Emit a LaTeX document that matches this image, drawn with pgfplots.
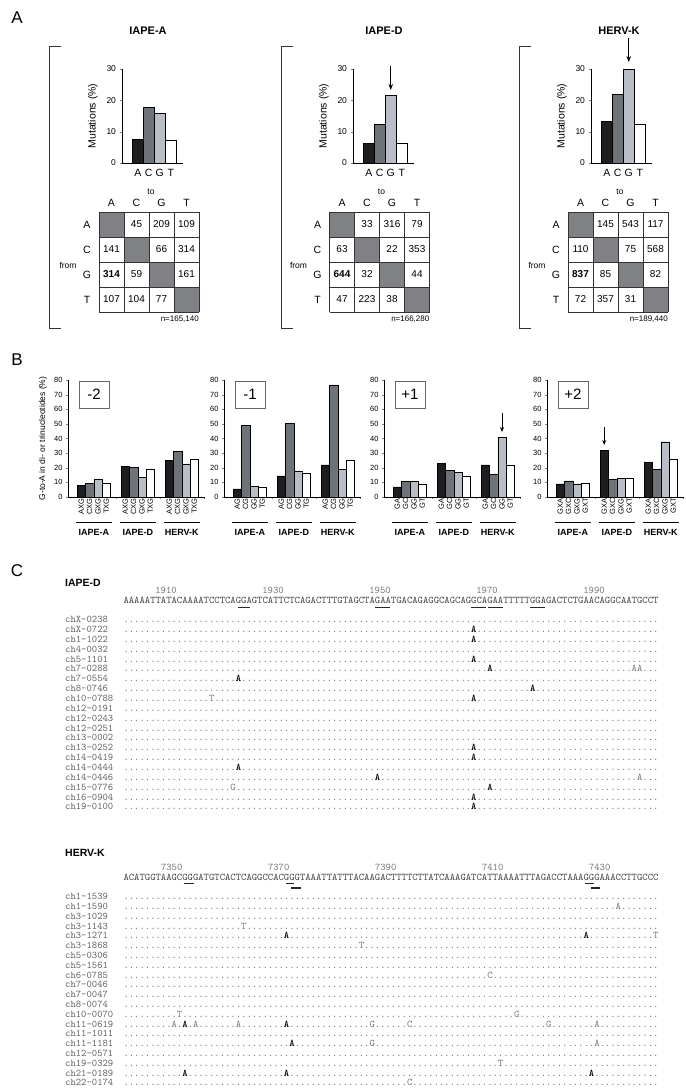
\documentclass[border=0pt]{standalone}
\usepackage{pgfplots}
\pgfplotsset{compat=1.18}
\usepackage{fontspec}
\setmainfont{Liberation Sans}
\usetikzlibrary{arrows.meta}
\definecolor{cA}{RGB}{30,30,32}
\definecolor{cC}{RGB}{110,115,121}
\definecolor{cG}{RGB}{185,190,198}
\definecolor{cT}{RGB}{255,255,255}
\definecolor{cell}{RGB}{128,129,132}
\newcommand\fs[1]{\fontsize{#1}{#1}\selectfont}
\newcommand\mono{\fontsize{10.19}{12}\selectfont\ttfamily}
\ExplSyntaxOn
\NewDocumentCommand\D{m}{\prg_replicate:nn{#1}{.}}
\ExplSyntaxOff
\newcommand\B[1]{{\bfseries\color{black}#1}}

\pgfplotsset{
  mutA/.style={scale only axis, width=61pt, height=94pt, xmin=0, xmax=61, ymin=0, ymax=30,
    axis x line*=bottom, axis y line*=left, axis line style={line width=0.9pt},
    ytick={0,10,20,30}, tick align=outside, major tick length=2.5pt,
    xtick={15.75,26.75,37.75,48.75}, xticklabels={A,C,G,T}, x tick style={draw=none},
    x tick label style={font=\fs{10.5}}, y tick label style={font=\fs{8.5}},
    /pgf/number format/assume math mode=true, clip=false,
    ylabel={Mutations (\%)},
    every axis y label/.style={at={(axis description cs:0,0.5)}, xshift=-29pt, rotate=90, anchor=center, font=\fs{10.5}}},
  barA/.style={ybar, bar width=11, bar shift=0pt, draw=black, line width=0.5pt},
  mutB/.style={scale only axis, width=137pt, height=117pt, xmin=0, xmax=137, ymin=0, ymax=80,
    axis x line*=bottom, axis y line*=left, axis line style={line width=0.8pt},
    ytick={0,10,...,80}, tick align=outside, major tick length=2pt,
    xtick={47.8,91.8,136.5}, xticklabels={},
    extra x ticks={13.2,21.6,30,38.4,57.2,65.6,74,82.4,101.2,109.6,118,126.4},
    extra x tick style={major tick length=0pt, tick label style={rotate=90, anchor=east, font=\fs{7.5}, inner sep=1pt}},
    y tick label style={font=\fs{7.5}},
    /pgf/number format/assume math mode=true, clip=false,
    every axis y label/.style={at={(axis description cs:0,0.5)}, xshift=-25pt, rotate=90, anchor=center, font=\fs{8.5}}},
  barB/.style={ybar, bar width=8.4, bar shift=0pt, draw=black, line width=0.4pt}
}

\newcommand\grp[1]{%
  \draw[line width=0.6pt] ([yshift=-25.7pt]axis cs:8,0) -- ([yshift=-25.7pt]axis cs:43.5,0);
  \draw[line width=0.6pt] ([yshift=-25.7pt]axis cs:52,0) -- ([yshift=-25.7pt]axis cs:87.5,0);
  \draw[line width=0.6pt] ([yshift=-25.7pt]axis cs:96,0) -- ([yshift=-25.7pt]axis cs:131.5,0);
  \node[font=\fs{9}\bfseries] at ([yshift=-35pt]axis cs:25.8,0) {IAPE-A};
  \node[font=\fs{9}\bfseries] at ([yshift=-35pt]axis cs:69.8,0) {IAPE-D};
  \node[font=\fs{9}\bfseries] at ([yshift=-35pt]axis cs:113.8,0) {HERV-K};
}

\newcommand\mtab[6]{%
  \foreach \c in {0,1,2,3} {\fill[cell] ({#1+25*\c},{212+25*\c}) rectangle ({#1+25*\c+25},{237+25*\c});}
  \foreach \i in {0,...,4} {\draw[line width=0.6pt, black!80] ({#1+25*\i},212) -- ({#1+25*\i},312);
    \draw[line width=0.6pt, black!80] (#1,{212+25*\i}) -- ({#1+100},{212+25*\i});}
  \foreach \l [count=\i from 0] in {A,C,G,T} {\node[font=\fs{10.5}] at ({#1-12},{224.5+25*\i}) {\l};
    \node[font=\fs{10.5}] at ({#1+12.5+25*\i},203) {\l};}
  \node[font=\fs{8.5}] at ({#1+52},192) {to};
  \node[font=\fs{8.5}] at ({#1-31},265) {from};
  \foreach \v [count=\j from 0] in {#2} {\node[font=\fs{10}] at ({#1+12.5+25*\j},224.5) {\v};}
  \foreach \v [count=\j from 0] in {#3} {\node[font=\fs{10}] at ({#1+12.5+25*\j},249.5) {\v};}
  \foreach \v [count=\j from 0] in {#4} {\node[font=\fs{10}] at ({#1+12.5+25*\j},274.5) {\v};}
  \foreach \v [count=\j from 0] in {#5} {\node[font=\fs{10}] at ({#1+12.5+25*\j},299.5) {\v};}
  \node[font=\fs{8}, anchor=east, inner sep=0pt] at ({#1+100},319) {#6};
}

\tikzset{rowname/.style={anchor=base west, inner sep=0pt, font=\mono, text=black!62},
  rowseq/.style={anchor=base west, inner sep=0pt, font=\mono, text=black!55}}
\newcommand\rD[3]{\node[rowname] at (65,{622.7+9.85*#1}) {#2}; \node[rowseq] at (123.3,{622.7+9.85*#1}) {#3};}
\newcommand\rK[3]{\node[rowname] at (65,{899.6+9.8*#1}) {#2}; \node[rowseq] at (123.3,{899.6+9.8*#1}) {#3};}

\begin{document}
\begin{tikzpicture}
\path[use as bounding box] (0pt,0pt) rectangle (685pt,-1089pt);

% ---------------- Panel A charts ----------------
\begin{axis}[mutA, at={(122pt,-163pt)}, anchor=south west]
\addplot[barA, fill=cA] coordinates {(15.75,7.7)};
\addplot[barA, fill=cC] coordinates {(26.75,17.7)};
\addplot[barA, fill=cG] coordinates {(37.75,15.9)};
\addplot[barA, fill=cT] coordinates {(48.75,7.2)};
\end{axis}
\begin{axis}[mutA, at={(353pt,-163pt)}, anchor=south west]
\addplot[barA, fill=cA] coordinates {(15.75,6.4)};
\addplot[barA, fill=cC] coordinates {(26.75,12.4)};
\addplot[barA, fill=cG] coordinates {(37.75,21.7)};
\addplot[barA, fill=cT] coordinates {(48.75,6.2)};
\draw[-{Stealth[length=6pt,width=4.5pt]}, line width=0.8pt] (axis cs:37.75,31) -- (axis cs:37.75,23.3);
\end{axis}
\begin{axis}[mutA, at={(591pt,-163pt)}, anchor=south west]
\addplot[barA, fill=cA] coordinates {(15.75,13.3)};
\addplot[barA, fill=cC] coordinates {(26.75,22.1)};
\addplot[barA, fill=cG] coordinates {(37.75,30.0)};
\addplot[barA, fill=cT] coordinates {(48.75,12.4)};
\draw[-{Stealth[length=6pt,width=4.5pt]}, line width=0.8pt] (axis cs:37.75,39.9) -- (axis cs:37.75,32.2);
\end{axis}

% ---------------- Panel B charts ----------------
\begin{axis}[mutB, at={(68pt,-497pt)}, anchor=south west,
  extra x tick labels={AXG,CXG,GXG,TXG,AXG,CXG,GXG,TXG,AXG,CXG,GXG,TXG},
  ylabel={G-to-A in di- or trinucleotides (\%)}]
\addplot[barB, fill=cA] coordinates {(13.2,8.2) (57.2,21.2) (101.2,25.3)};
\addplot[barB, fill=cC] coordinates {(21.6,9.3) (65.6,20.3) (109.6,31.0)};
\addplot[barB, fill=cG] coordinates {(30,12.1) (74,13.5) (118,22.6)};
\addplot[barB, fill=cT] coordinates {(38.4,9.3) (82.4,18.9) (126.4,26.0)};
\grp{}
\end{axis}
\begin{axis}[mutB, at={(224pt,-497pt)}, anchor=south west,
  extra x tick labels={AG,CG,GG,TG,AG,CG,GG,TG,AG,CG,GG,TG}]
\addplot[barB, fill=cA] coordinates {(13.2,5.5) (57.2,14.4) (101.2,21.9)};
\addplot[barB, fill=cC] coordinates {(21.6,49.2) (65.6,50.4) (109.6,76.6)};
\addplot[barB, fill=cG] coordinates {(30,7.5) (74,17.8) (118,18.9)};
\addplot[barB, fill=cT] coordinates {(38.4,6.6) (82.4,16.6) (126.4,25.3)};
\grp{}
\end{axis}
\begin{axis}[mutB, at={(384pt,-497pt)}, anchor=south west,
  extra x tick labels={GA,GC,GG,GT,GA,GC,GG,GT,GA,GC,GG,GT}]
\addplot[barB, fill=cA] coordinates {(13.2,7.0) (57.2,23.0) (101.2,21.9)};
\addplot[barB, fill=cC] coordinates {(21.6,10.5) (65.6,18.0) (109.6,15.5)};
\addplot[barB, fill=cG] coordinates {(30,10.5) (74,16.9) (118,40.8)};
\addplot[barB, fill=cT] coordinates {(38.4,8.7) (82.4,13.9) (126.4,21.9)};
\draw[-{Stealth[length=5pt,width=4pt]}, line width=0.7pt] (axis cs:118,57.4) -- (axis cs:118,44.4);
\grp{}
\end{axis}
\begin{axis}[mutB, at={(547pt,-497pt)}, anchor=south west,
  extra x tick labels={GXA,GXC,GXG,GXT,GXA,GXC,GXG,GXT,GXA,GXC,GXG,GXT}]
\addplot[barB, fill=cA] coordinates {(13.2,8.9) (57.2,32.1) (101.2,23.5)};
\addplot[barB, fill=cC] coordinates {(21.6,11.1) (65.6,12.3) (109.6,18.9)};
\addplot[barB, fill=cG] coordinates {(30,8.9) (74,12.7) (118,37.8)};
\addplot[barB, fill=cT] coordinates {(38.4,9.3) (82.4,13.2) (126.4,26.0)};
\draw[-{Stealth[length=5pt,width=4pt]}, line width=0.7pt] (axis cs:57.2,47.9) -- (axis cs:57.2,35.6);
\grp{}
\end{axis}

\begin{scope}[x=1pt, y=-1pt]
% panel letters
\node[font=\fs{17}] at (17,18) {A};
\node[font=\fs{17}] at (17,360) {B};
\node[font=\fs{17}] at (17,571) {C};
% titles A
\node[font=\fs{11}\bfseries] at (148,31) {IAPE-A};
\node[font=\fs{11}\bfseries] at (384,31) {IAPE-D};
\node[font=\fs{11}\bfseries] at (619,31) {HERV-K};
% brackets
\draw[line width=0.7pt, black!80] (61,46) -- (49,46) -- (49,328) -- (61,328);
\draw[line width=0.7pt, black!80] (293,46) -- (281,46) -- (281,328) -- (293,328);
\draw[line width=0.7pt, black!80] (531,46) -- (519,46) -- (519,328) -- (531,328);
% tables
\mtab{99}{,45,209,109}{141,,66,314}{\textbf{314},59,,161}{107,104,77,}{n=165,140}
\mtab{329.5}{,33,316,79}{63,,22,353}{\textbf{644},32,,44}{47,223,38,}{n=166,280}
\mtab{568}{,145,543,117}{110,,75,568}{\textbf{837},85,,82}{72,357,31,}{n=189,440}
% boxes B
\foreach \xo/\lab in {68/{-2},224/{-1},384/{+1},547/{+2}} {
  \node[draw=black!60, line width=0.5pt, minimum width=30pt, minimum height=27pt, inner sep=0pt, font=\fs{15}] at ({\xo+26},394.5) {\lab};}

% ---------------- Panel C ----------------
\node[font=\fs{10.5}\bfseries, anchor=west, inner sep=0pt] at (65,582.7) {IAPE-D};
\foreach \n [count=\k from 0] in {1910,1930,1950,1970,1990}
  {\node[anchor=base, inner sep=0pt, font=\mono, text=black!55] at ({166+107*\k},593.8) {\n};}
\node[rowseq, text=black!75] at (123.3,603.8) {AAAAATTATACAAAATCCTCAGGAGTCATTCTCAGACTTTGTAGCTAGAATGACAGAGGCAGCAGGCAGAATTTTTGGAGACTCTGAACAGGCAATGCCT};
\foreach \a/\b in {238/250,375/390,471/486,488/503,530/545} {\draw[line width=1.3pt, black!85] (\a,607.5) -- (\b,607.5);}
\rD{0}{chX-0238}{\D{100}}
\rD{1}{chX-0722}{\D{65}\B{A}\D{34}}
\rD{2}{ch1-1022}{\D{65}\B{A}\D{34}}
\rD{3}{ch4-0032}{\D{100}}
\rD{4}{ch5-1101}{\D{65}\B{A}\D{34}}
\rD{5}{ch7-0288}{\D{68}\B{A}\D{26}AA\D{3}}
\rD{6}{ch7-0554}{\D{21}\B{A}\D{78}}
\rD{7}{ch8-0746}{\D{76}\B{A}\D{23}}
\rD{8}{ch10-0788}{\D{16}T\D{48}\B{A}\D{34}}
\rD{9}{ch12-0191}{\D{100}}
\rD{10}{ch12-0243}{\D{100}}
\rD{11}{ch12-0251}{\D{100}}
\rD{12}{ch13-0002}{\D{100}}
\rD{13}{ch13-0252}{\D{65}\B{A}\D{34}}
\rD{14}{ch14-0419}{\D{65}\B{A}\D{34}}
\rD{15}{ch14-0444}{\D{21}\B{A}\D{78}}
\rD{16}{ch14-0446}{\D{47}\B{A}\D{48}A\D{3}}
\rD{17}{ch15-0776}{\D{20}G\D{47}\B{A}\D{31}}
\rD{18}{ch16-0904}{\D{65}\B{A}\D{34}}
\rD{19}{ch19-0100}{\D{65}\B{A}\D{34}}

\node[font=\fs{10.5}\bfseries, anchor=west, inner sep=0pt] at (65,853) {HERV-K};
\foreach \n [count=\k from 0] in {7350,7370,7390,7410,7430}
  {\node[anchor=base, inner sep=0pt, font=\mono, text=black!55] at ({171.7+107*\k},870.8) {\n};}
\node[rowseq, text=black!75] at (123.3,880.4) {ACATGGTAAGCGGGATGTCACTCAGGCCACGGGTAAATTATTTACAAGACTTTTCTTATCAAAGATCATTAAAATTTAGACCTAAAGGGAAACCTTGCCC};
\foreach \a/\b in {183.7/193.7,286/294,585/594.3} {\draw[line width=1.3pt, black!85] (\a,883.3) -- (\b,883.3);}
\foreach \a/\b in {291/301,590.7/600} {\draw[line width=1.3pt, black!85] (\a,888) -- (\b,888);}
\rK{0}{ch1-1539}{\D{100}}
\rK{1}{ch1-1590}{\D{92}A\D{7}}
\rK{2}{ch3-1029}{\D{100}}
\rK{3}{ch3-1143}{\D{22}T\D{77}}
\rK{4}{ch3-1271}{\D{30}\B{A}\D{55}\B{A}\D{12}T}
\rK{5}{ch3-1868}{\D{44}T\D{55}}
\rK{6}{ch5-0306}{\D{100}}
\rK{7}{ch5-1561}{\D{100}}
\rK{8}{ch6-0785}{\D{68}C\D{31}}
\rK{9}{ch7-0046}{\D{100}}
\rK{10}{ch7-0047}{\D{100}}
\rK{11}{ch8-0074}{\D{100}}
\rK{12}{ch10-0070}{\D{10}T\D{62}G\D{26}}
\rK{13}{ch11-0619}{\D{9}A.\B{A}.A\D{7}A\D{8}\B{A}\D{15}G\D{6}C\D{25}G\D{8}A\D{11}}
\rK{14}{ch11-1011}{\D{100}}
\rK{15}{ch11-1181}{\D{31}\B{A}\D{14}G\D{41}A\D{11}}
\rK{16}{ch12-0571}{\D{100}}
\rK{17}{ch19-0329}{\D{70}T\D{29}}
\rK{18}{ch21-0189}{\D{11}\B{A}\D{18}\B{A}\D{56}\B{A}\D{12}}
\rK{19}{ch22-0174}{\D{53}C\D{46}}
\end{scope}
\end{tikzpicture}
\end{document}
